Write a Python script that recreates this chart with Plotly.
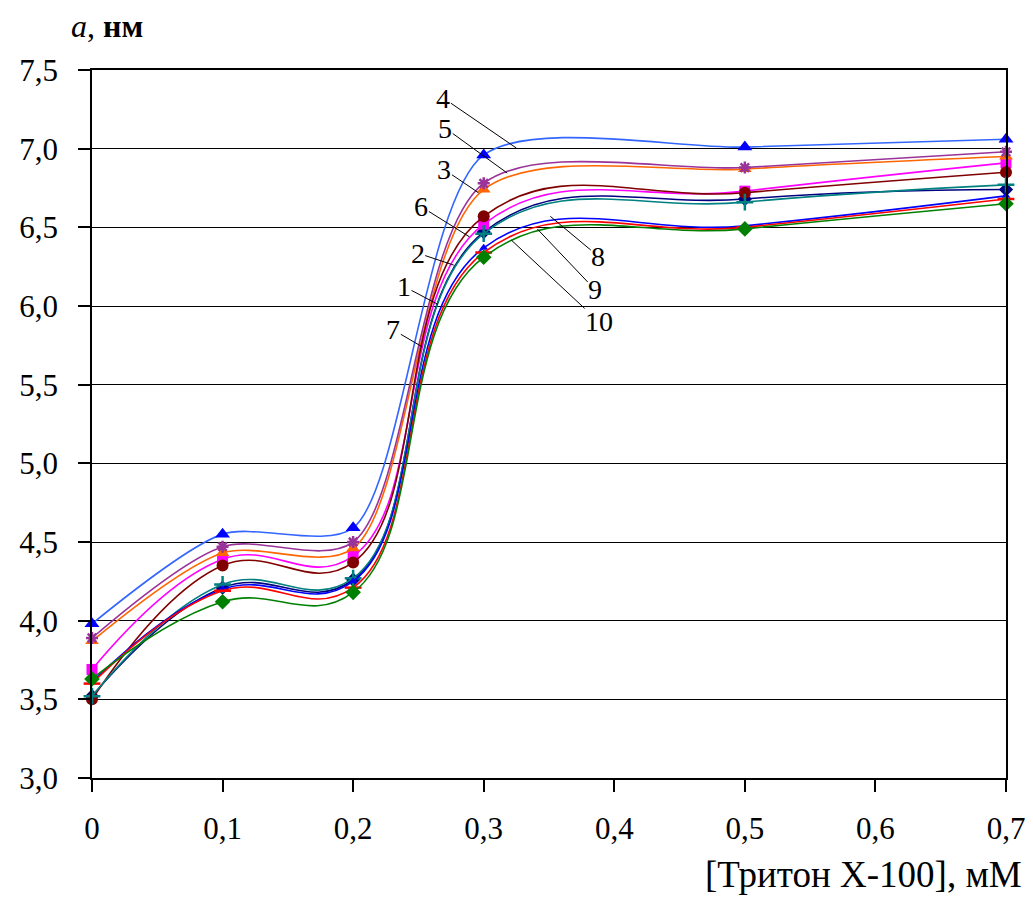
import plotly.graph_objects as go

x_vals = [0, 0.1, 0.2, 0.3, 0.5, 0.7]
x_tick_vals = [0, 0.1, 0.2, 0.3, 0.4, 0.5, 0.6, 0.7]
x_tick_text = ["0", "0,1", "0,2", "0,3", "0,4", "0,5", "0,6", "0,7"]

s1 = [3.52, 4.21, 4.26, 6.47, 6.68, 6.74]
s2 = [3.69, 4.39, 4.41, 6.52, 6.73, 6.91]
s3 = [3.87, 4.43, 4.46, 6.74, 6.87, 6.95]
s4 = [3.98, 4.55, 4.59, 6.96, 7.01, 7.06]
s5 = [3.89, 4.47, 4.50, 6.78, 6.88, 6.98]
s6 = [3.50, 4.35, 4.37, 6.57, 6.72, 6.85]
s7 = [3.52, 4.23, 4.27, 6.46, 6.66, 6.77]
s8 = [3.61, 4.20, 4.25, 6.37, 6.51, 6.70]
s9 = [3.60, 4.19, 4.21, 6.34, 6.50, 6.68]
s10 = [3.63, 4.12, 4.18, 6.31, 6.49, 6.65]

# name, values, line colour, marker colour, symbol, size, smoothing
series = [
    ("1", s1, "#000080", "#000080", "diamond", 11, 1.2),
    ("2", s2, "#FF00FF", "#FF00FF", "square", 11, 1.2),
    ("3", s3, "#FF6600", "#FF6600", "triangle-up", 12, 0.85),
    ("4", s4, "#3366FF", "#0000FF", "triangle-up", 13, 0.75),
    ("5", s5, "#993399", "#993399", "asterisk-open", 10, 0.85),
    ("6", s6, "#800000", "#800000", "circle", 12, 1.2),
    ("7", s7, "#008080", "#008080", "cross-thin-open", 12, 1.2),
    ("8", s8, "#0000FF", "#0000FF", "triangle-up", 8, 1.2),
    ("9", s9, "#FF0000", "#FF0000", "line-ew-open", 12, 1.2),
    ("10", s10, "#008000", "#008000", "diamond", 12, 1.2),
]

# label text, point on curve (x, y), text offset dx, dy in px
label_pts = [
    ("4", 0.325, 7.004, -73, -50),
    ("5", 0.318, 6.845, -62, -45),
    ("3", 0.296, 6.72, -34, -23),
    ("6", 0.289, 6.44, -48, -30),
    ("2", 0.277, 6.26, -36, -12),
    ("1", 0.265, 6.01, -34, -18),
    ("7", 0.253, 5.74, -29, -17),
    ("8", 0.351, 6.57, 48, 40),
    ("9", 0.341, 6.49, 58, 61),
    ("10", 0.321, 6.42, 88, 82),
]

SERIF = "Liberation Serif, Times New Roman, DejaVu Serif, serif"

fig = go.Figure()
for name, ys, lc, mc, sym, ms, sm in series:
    open_sym = sym.endswith("open")
    fig.add_trace(go.Scatter(
        x=x_vals, y=ys, name=name, mode="lines+markers",
        line=dict(color=lc, width=1.6, shape="spline", smoothing=sm),
        marker=dict(symbol=sym, size=ms, color=mc,
                    line=dict(color=mc, width=2.5 if open_sym else 0)),
        cliponaxis=False, showlegend=False,
    ))

for txt, xp, yp, dx, dy in label_pts:
    fig.add_annotation(
        x=xp, y=yp, xref="x", yref="y", text=txt,
        showarrow=True, arrowhead=0, arrowwidth=1, arrowcolor="black",
        ax=dx, ay=dy, axref="pixel", ayref="pixel", standoff=0,
        borderpad=0,
        font=dict(family=SERIF, size=28, color="black"),
    )

fig.add_annotation(
    x=1, y=0, xref="paper", yref="paper", xanchor="right", yanchor="top",
    yshift=-74, xshift=18, showarrow=False,
    text="[Тритон X-100], мМ",
    font=dict(family=SERIF, size=37, color="black"),
)
fig.add_annotation(
    x=0, y=1, xref="paper", yref="paper", xanchor="left", yanchor="bottom",
    xshift=-22, yshift=25, showarrow=False, borderpad=0,
    text="<i>a</i>, <b>нм</b>",
    font=dict(family=SERIF, size=32, color="black"),
)

fig.update_layout(
    width=1033, height=897,
    margin=dict(l=84, r=35, t=62, b=127, autoexpand=False),
    paper_bgcolor="white", plot_bgcolor="white",
    separators=", ",
    font=dict(family=SERIF, size=31, color="black"),
    xaxis=dict(
        range=[0, 0.7], tickvals=x_tick_vals, ticktext=x_tick_text,
        showgrid=False, zeroline=False, showline=True, linecolor="black",
        linewidth=1.5, mirror=True, ticks="outside", ticklen=12,
        tickcolor="black", tickwidth=1.5, automargin=False,
        tickfont=dict(family=SERIF, size=31, color="black"),
        ticklabelstandoff=10,
    ),
    yaxis=dict(
        range=[3, 7.5], dtick=0.5, tickformat=".1f",
        showgrid=True, gridcolor="black", gridwidth=1.2, zeroline=False,
        showline=True, linecolor="black", linewidth=1.5, mirror=True,
        ticks="outside", ticklen=12, tickcolor="black", tickwidth=1.5,
        automargin=False,
        tickfont=dict(family=SERIF, size=31, color="black"),
        ticklabelstandoff=14,
    ),
)

fig.write_html("out.html")
